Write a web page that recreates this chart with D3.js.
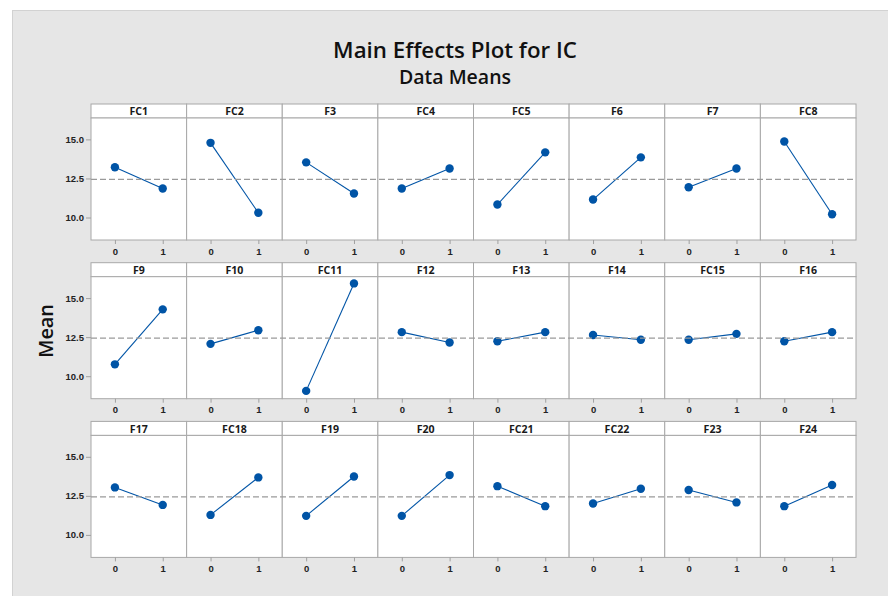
<!DOCTYPE html>
<html>
<head>
<meta charset="utf-8">
<script src="https://cdn.jsdelivr.net/npm/d3@7"></script>
<style>
  body { margin: 0; background: #fff; }
  svg { display: block; font-family: "Open Sans", "Noto Sans", sans-serif; }
  .tick text { fill: #222; font-size: 9.5px; font-weight: 700; }
  .tick line { stroke: #a0a0a0; }
</style>
</head>
<body>
<div id="chart"></div>
<script>
// factors and the means at each level
var factors = ["FC1","FC2","F3","FC4","FC5","F6","F7","FC8",
               "F9","F10","FC11","F12","F13","F14","FC15","F16",
               "F17","FC18","F19","F20","FC21","FC22","F23","F24"];
var meanLow  = [13.22,14.78,13.53,11.86,10.83,11.15,11.94,14.87,
                10.76,12.07,9.06,12.82,12.24,12.64,12.33,12.24,
                13.04,11.28,11.22,11.22,13.12,12.01,12.87,11.84];
var meanHigh = [11.86,10.30,11.54,13.14,14.17,13.85,13.14,10.21,
                14.28,12.94,15.94,12.16,12.82,12.33,12.71,12.82,
                11.92,13.68,13.74,13.83,11.84,12.95,12.08,13.19];
var levels = [0, 1];
var yTicks = [10.0, 12.5, 15.0];
var grandMean = 12.44;

var width = 888, height = 596;
var headH = 14, plotH = 122;
var blue = "#0054a6", frame = "#a8a8a8";

var svg = d3.select("#chart").append("svg").attr("width", width).attr("height", height);

// figure background
svg.append("rect").attr("x", 12.5).attr("y", 10.5).attr("width", width).attr("height", height)
  .attr("fill", "#e6e6e6").attr("stroke", "#d2d2d2");

svg.append("text").attr("x", 455).attr("y", 58).attr("text-anchor", "middle")
  .attr("font-size", 22.3).attr("font-weight", 600).attr("fill", "#111").text("Main Effects Plot for IC");
svg.append("text").attr("x", 455).attr("y", 84).attr("text-anchor", "middle")
  .attr("font-size", 19.5).attr("font-weight", 600).attr("fill", "#111").text("Data Means");

svg.append("text").attr("transform", "translate(53,331) rotate(-90)").attr("text-anchor", "middle")
  .attr("font-size", 19.8).attr("font-weight", 600).attr("fill", "#111").text("Mean");

var col = d3.scaleBand().domain(d3.range(8)).range([91, 856]);
var row = d3.scaleBand().domain(d3.range(3)).range([104, 104 + 3 * 158.7]);
var x = d3.scaleLinear().domain([-0.5, 1.5]).range([0, col.bandwidth()]);
var y = d3.scaleLinear().domain([8.56, 16.37]).range([headH + plotH, headH]);

var data = factors.map(function(f, i) {
  return { name: f, i: i, vals: [meanLow[i], meanHigh[i]] };
});

var panel = svg.selectAll(".panel").data(data).enter().append("g")
  .attr("class", "panel")
  .attr("transform", function(d) { return "translate(" + col(d.i % 8) + "," + row(Math.floor(d.i / 8)) + ")"; });

panel.append("rect").attr("x", 0).attr("y", 0).attr("width", col.bandwidth()).attr("height", headH)
  .attr("fill", "#fff").attr("stroke", frame);
panel.append("rect").attr("x", 0).attr("y", headH).attr("width", col.bandwidth()).attr("height", plotH)
  .attr("fill", "#fff").attr("stroke", frame);
panel.append("text").attr("x", col.bandwidth() / 2).attr("y", 11.3).attr("text-anchor", "middle")
  .attr("font-size", 10.6).attr("font-weight", 700).attr("fill", "#1a1a1a").text(function(d) { return d.name; });

panel.each(function(d) {
  var g = d3.select(this);
  var ax = g.append("g").attr("transform", "translate(0," + (headH + plotH) + ")")
    .call(d3.axisBottom(x).tickValues(levels).tickFormat(d3.format("d")).tickSize(4).tickPadding(4));
  ax.select(".domain").remove();
  if (d.i % 8 == 0) {
    var ay = g.append("g").call(d3.axisLeft(y).tickValues(yTicks).tickFormat(d3.format(".1f")).tickSize(5).tickPadding(2));
    ay.select(".domain").remove();
  }
});

// grand mean reference line per row
svg.selectAll(".ref").data(d3.range(3)).enter().append("line")
  .attr("x1", 91).attr("x2", 856)
  .attr("y1", function(r) { return row(r) + y(grandMean); })
  .attr("y2", function(r) { return row(r) + y(grandMean); })
  .attr("stroke", "#9a9a9a").attr("stroke-width", 1.2).attr("stroke-dasharray", "6,3");

var line = d3.line().x(function(v, k) { return x(levels[k]); }).y(function(v) { return y(v); });

panel.append("path").attr("d", function(d) { return line(d.vals); })
  .attr("fill", "none").attr("stroke", blue).attr("stroke-width", 1.1);
panel.selectAll(".pt").data(function(d) { return d.vals; }).enter().append("circle")
  .attr("cx", function(v, k) { return x(levels[k]); })
  .attr("cy", function(v) { return y(v); })
  .attr("r", 4.2).attr("fill", blue);
</script>
</body>
</html>
